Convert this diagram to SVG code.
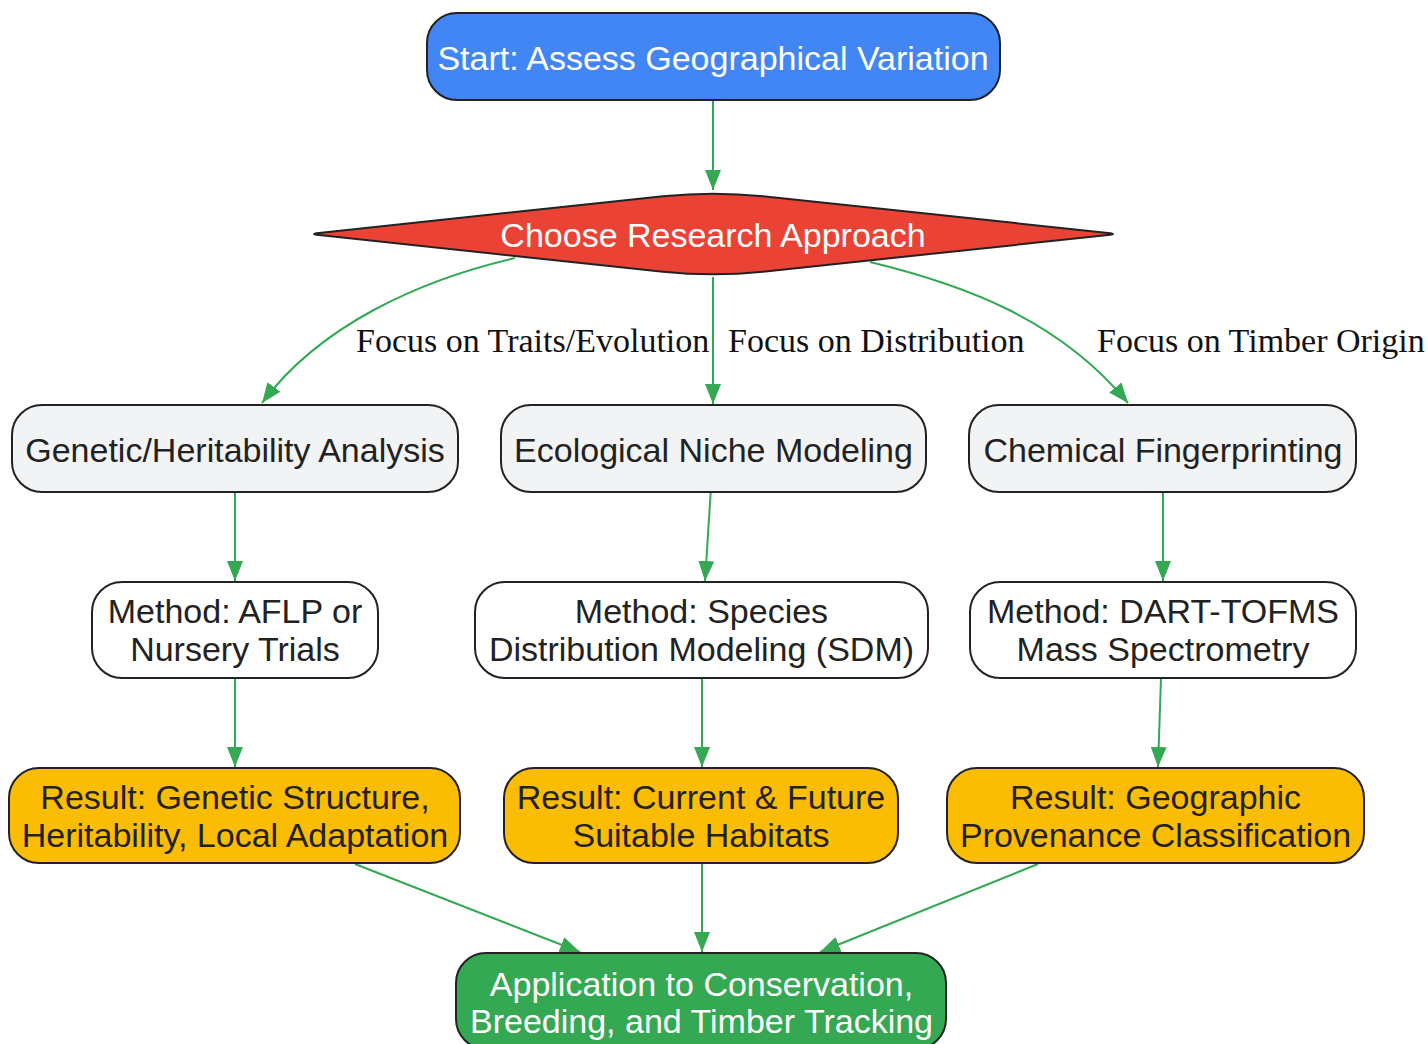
<svg xmlns="http://www.w3.org/2000/svg" width="1428" height="1044" viewBox="0 0 1428 1044">
<style>
.node rect, .node path { stroke: #222222; stroke-width: 2; }
.t { font-family: "Liberation Sans", Arial, sans-serif; font-size: 34px; text-anchor: middle; fill: #222222; }
.w { fill: #ffffff; }
.lbl { font-family: "Liberation Serif", "Times New Roman", serif; font-size: 34px; fill: #111111; }
.edge { fill: none; stroke: #34A853; stroke-width: 2; marker-end: url(#arrow); }
.blue { fill: #4285F4; }
.red { fill: #EA4335; }
.gray { fill: #F1F3F4; }
.white { fill: #FFFFFF; }
.yellow { fill: #FBBC04; }
.green { fill: #34A853; }
</style>
<defs>
<marker id="arrow" viewBox="0 0 20 16" refX="20" refY="8" markerWidth="20" markerHeight="16" markerUnits="userSpaceOnUse" orient="auto">
<path d="M0,0 L20,8 L0,16 Z" fill="#34A853"/>
</marker>
</defs>
<rect width="1428" height="1044" fill="#ffffff"/>

<g id="connectors">
<path class="edge" d="M713,100 L713,190"/>
<path class="edge" d="M515,258 C420,280 320,325 262,403"/>
<path class="edge" d="M713,277 L713,404"/>
<path class="edge" d="M870,262 C965,285 1060,320 1128,403"/>
<path class="edge" d="M235,492 L235,581"/>
<path class="edge" d="M710.7,492 L705,581"/>
<path class="edge" d="M1163,492 L1163,581"/>
<path class="edge" d="M235,678 L235,767"/>
<path class="edge" d="M702,678 L702,767"/>
<path class="edge" d="M1161,678 L1158,767"/>
<path class="edge" d="M355,864 L580,952"/>
<path class="edge" d="M702,864 L702,952"/>
<path class="edge" d="M1038,864 L820,952"/>
<text class="lbl" x="356" y="352">Focus on Traits/Evolution</text>
<text class="lbl" x="728" y="352">Focus on Distribution</text>
<text class="lbl" x="1097" y="352">Focus on Timber Origin</text>
</g>

<g id="start" class="node">
<rect class="blue" x="427" y="13" width="573" height="87" rx="30" ry="30"/>
<text class="t w" x="713" y="70">Start: Assess Geographical Variation</text>
</g>

<g id="decision" class="node">
<path class="red" d="M319,232.9 L663,196.3 Q713,191 763,196.3 L1108,232.9 Q1118,234 1108,235.1 L763,271.7 Q713,277 663,271.7 L319,235.1 Q309,234 319,232.9 Z"/>
<text class="t w" x="713" y="246.5">Choose Research Approach</text>
</g>

<g id="genetic" class="node">
<rect class="gray" x="12" y="405" width="446" height="87" rx="30" ry="30"/>
<text class="t" x="235" y="461.5">Genetic/Heritability Analysis</text>
</g>

<g id="ecological" class="node">
<rect class="gray" x="501" y="405" width="425" height="87" rx="30" ry="30"/>
<text class="t" x="713.5" y="461.5">Ecological Niche Modeling</text>
</g>

<g id="chemical" class="node">
<rect class="gray" x="969" y="405" width="387" height="87" rx="30" ry="30"/>
<text class="t" x="1163" y="461.5">Chemical Fingerprinting</text>
</g>

<g id="method-aflp" class="node">
<rect class="white" x="92" y="582" width="286" height="96" rx="30" ry="30"/>
<text class="t" x="235" y="623.3">Method: AFLP or</text>
<text class="t" x="235" y="660.8">Nursery Trials</text>
</g>

<g id="method-sdm" class="node">
<rect class="white" x="475" y="582" width="453" height="96" rx="30" ry="30"/>
<text class="t" x="701.5" y="623.3">Method: Species</text>
<text class="t" x="701.5" y="660.8">Distribution Modeling (SDM)</text>
</g>

<g id="method-dart" class="node">
<rect class="white" x="970" y="582" width="386" height="96" rx="30" ry="30"/>
<text class="t" x="1163" y="623.3">Method: DART-TOFMS</text>
<text class="t" x="1163" y="660.8">Mass Spectrometry</text>
</g>

<g id="result-genetic" class="node">
<rect class="yellow" x="9" y="768" width="451" height="95" rx="30" ry="30"/>
<text class="t" x="235" y="809.3">Result: Genetic Structure,</text>
<text class="t" x="235" y="847.3">Heritability, Local Adaptation</text>
</g>

<g id="result-habitat" class="node">
<rect class="yellow" x="504" y="768" width="394" height="95" rx="30" ry="30"/>
<text class="t" x="701" y="809.3">Result: Current &amp; Future</text>
<text class="t" x="701" y="847.3">Suitable Habitats</text>
</g>

<g id="result-provenance" class="node">
<rect class="yellow" x="947" y="768" width="417" height="95" rx="30" ry="30"/>
<text class="t" x="1155.5" y="809.3">Result: Geographic</text>
<text class="t" x="1155.5" y="847.3">Provenance Classification</text>
</g>

<g id="application" class="node">
<rect class="green" x="456" y="953" width="490" height="96" rx="30" ry="30"/>
<text class="t w" x="701.5" y="995.7">Application to Conservation,</text>
<text class="t w" x="701.5" y="1032.7">Breeding, and Timber Tracking</text>
</g>
</svg>
